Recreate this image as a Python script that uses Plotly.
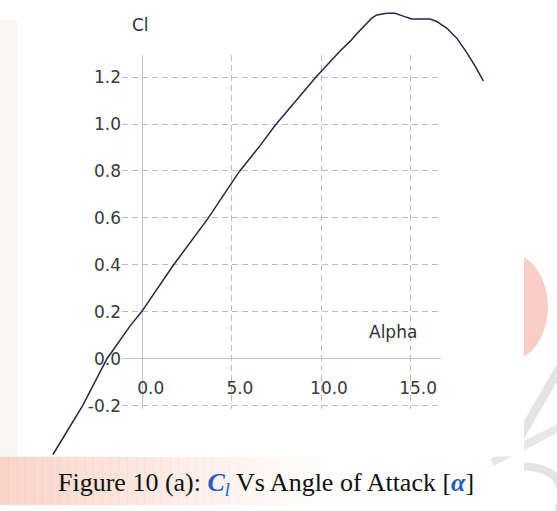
import plotly.graph_objects as go

# Lift coefficient versus angle of attack (degrees)
alpha = [-5.04, -3.36, -2.01, -0.72, -0.04, 1.69, 3.66, 5.40, 6.58, 7.42,
         9.72, 10.51, 11.07, 11.63, 12.02, 12.85, 13.13, 13.69, 14.15, 14.53,
         15.09, 16.12, 16.49, 17.05, 17.61, 18.18, 18.64, 19.11]
cl = [-0.408, -0.198, 0.000, 0.139, 0.203, 0.396, 0.598, 0.796, 0.908, 0.994,
      1.200, 1.265, 1.311, 1.352, 1.386, 1.451, 1.465, 1.472, 1.472, 1.462,
      1.448, 1.447, 1.437, 1.409, 1.367, 1.304, 1.248, 1.184]

x_ticks = [0, 5, 10, 15]
x_tick_text = ["0.0", "5.0", "10.0", "15.0"]
y_ticks = [-0.2, 0.0, 0.2, 0.4, 0.6, 0.8, 1.0, 1.2]
y_tick_text = ["-0.2", "0.0", "0.2", "0.4", "0.6", "0.8", "1.0", "1.2"]

x_title = "Alpha"
y_title = "Cl"
caption = ("Figure 10 (a): <b><i><span style='color:#2a5bb8'>C</span></i></b>"
           "<sub><i><span style='color:#2a5bb8'>l</span></i></sub>"
           " Vs Angle of Attack [<b><i><span style='color:#2a5bb8'>α</span></i></b>]")

# ---- page geometry (pixels) ----
W, H = 557, 511
X_ZERO, PX_PER_DEG = 142.8, 17.82      # pixel column of alpha = 0, scale
Y_ZERO, PX_PER_CL = 363.0, 237.5       # pixel row of Cl = 0, scale
GRID_L, GRID_R, GRID_T, GRID_B = 122, 441, 56, 414
BOX_R, BOX_B = 524, 462


def a_of(px):
    return (px - X_ZERO) / PX_PER_DEG


def c_of(py):
    return (Y_ZERO - py) / PX_PER_CL


def px(x):
    return x / W


def py(y):
    return 1 - y / H


tick_font = dict(family="DejaVu Sans", size=17, color="#3a3a3a")
grid_color = "#bdbdbd"
axis_color = "#c6c6c6"

fig = go.Figure()

# grid frame (carries gridlines, zero lines and tick labels)
fig.add_trace(go.Scatter(x=[None], y=[None], xaxis="x", yaxis="y",
                         showlegend=False, hoverinfo="skip"))
# the polar curve itself, drawn on a full-page pair of axes with the same scale
fig.add_trace(go.Scatter(x=alpha, y=cl, xaxis="x2", yaxis="y2", mode="lines",
                         line=dict(color="#26264e", width=1.5),
                         showlegend=False, hoverinfo="skip"))

shapes = []
# left margin tint
shapes.append(dict(type="rect", xref="paper", yref="paper", layer="below",
                   x0=0, x1=px(17), y0=py(BOX_B), y1=py(20),
                   fillcolor="#f8f6f4", line=dict(width=0)))
# caption band fading from salmon to white
n_steps = 40
band_w = 340
for i in range(n_steps):
    op = 0.72 * (1 - i / n_steps) ** 1.2
    shapes.append(dict(type="rect", xref="paper", yref="paper", layer="below",
                       x0=px(i * band_w / n_steps), x1=px((i + 1) * band_w / n_steps + 0.5),
                       y0=0, y1=py(BOX_B), fillcolor="rgb(248,196,180)",
                       opacity=op, line=dict(width=0)))
# watermark pieces on the right
shapes.append(dict(type="circle", xref="paper", yref="paper", layer="below",
                   x0=px(470), x1=px(548), y0=py(365), y1=py(256),
                   fillcolor="#f9cec6", line=dict(width=0)))
shapes.append(dict(type="line", xref="paper", yref="paper", layer="below",
                   x0=px(520), y0=py(442), x1=px(560), y1=py(372),
                   line=dict(color="#e4e4e4", width=9)))
shapes.append(dict(type="line", xref="paper", yref="paper", layer="below",
                   x0=px(492), y0=py(468), x1=px(560), y1=py(432),
                   line=dict(color="#e8e8e8", width=8)))
shapes.append(dict(type="path", xref="paper", yref="paper", layer="below",
                   path=(f"M {px(524)},{py(472)} Q {px(572)},{py(474)} {px(558)},{py(518)}"),
                   line=dict(color="#e4e4e4", width=8)))
# white chart card
shapes.append(dict(type="rect", xref="paper", yref="paper", layer="below",
                   x0=px(17), x1=px(BOX_R), y0=py(BOX_B), y1=1,
                   fillcolor="white", line=dict(width=0)))
fig.update_layout(shapes=shapes)

fig.update_layout(
    width=W, height=H,
    margin=dict(l=0, r=0, t=0, b=0),
    paper_bgcolor="white",
    plot_bgcolor="rgba(0,0,0,0)",
    xaxis=dict(domain=[px(GRID_L), px(GRID_R)],
               range=[a_of(GRID_L), a_of(GRID_R)],
               tickmode="array", tickvals=x_ticks, ticktext=x_tick_text,
               showgrid=True, gridcolor=grid_color, gridwidth=1, griddash="6px,4px",
               zeroline=True, zerolinecolor=axis_color, zerolinewidth=1,
               showline=False, ticks="", tickfont=tick_font,
               anchor="free", position=py(Y_ZERO),
               ticklabelshift=8, ticklabelstandoff=17, fixedrange=True),
    yaxis=dict(domain=[py(GRID_B), py(GRID_T)],
               range=[c_of(GRID_B), c_of(GRID_T)],
               tickmode="array", tickvals=y_ticks, ticktext=y_tick_text,
               showgrid=True, gridcolor=grid_color, gridwidth=1, griddash="6px,4px",
               zeroline=True, zerolinecolor=axis_color, zerolinewidth=1,
               showline=False, ticks="", tickfont=tick_font,
               anchor="x", fixedrange=True),
    xaxis2=dict(domain=[0, 1], range=[a_of(0), a_of(W)], visible=False,
                anchor="y2", fixedrange=True),
    yaxis2=dict(domain=[0, 1], range=[c_of(H), c_of(0)], visible=False,
                anchor="x2", fixedrange=True),
    annotations=[
        dict(text=y_title, xref="paper", yref="paper", x=px(140), y=py(25),
             xanchor="center", yanchor="middle", showarrow=False,
             font=dict(family="DejaVu Sans", size=17, color="#333333")),
        dict(text=x_title, xref="paper", yref="paper", x=px(393), y=py(336),
             xanchor="center", yanchor="middle", showarrow=False,
             font=dict(family="DejaVu Sans", size=17, color="#333333")),
        dict(text=caption, xref="paper", yref="paper", x=px(266), y=py(490),
             xanchor="center", yanchor="middle", showarrow=False,
             font=dict(family="Liberation Serif", size=26, color="#111111")),
    ],
)

fig.write_html("out.html")
